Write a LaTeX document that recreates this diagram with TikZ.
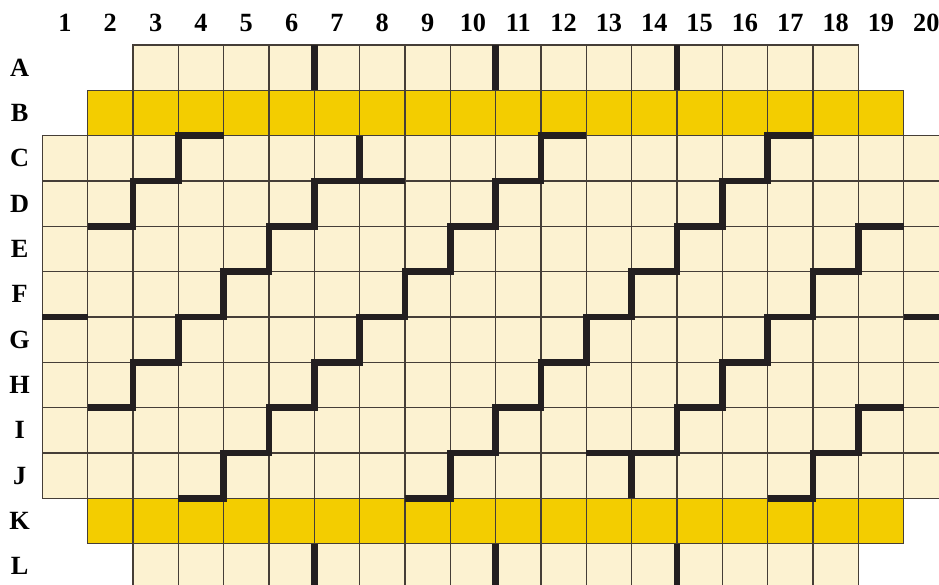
\documentclass[tikz,border=0pt]{standalone}
\usepackage{fontspec}
\setmainfont{Liberation Serif}
\usepackage{xcolor}
\definecolor{cellcream}{HTML}{FCF2D1}
\definecolor{bandgold}{HTML}{F3CD00}
\definecolor{gridgrey}{HTML}{453E37}
\definecolor{wallblack}{HTML}{231F20}

\begin{document}
\begin{tikzpicture}[
  x=1cm,y=-1cm,
  cell/.style={draw=gridgrey,line width=.8pt,fill=cellcream},
  band/.style={cell,fill=bandgold},
  wall/.style={draw=wallblack,line width=4.1pt,line join=miter},
  every node/.style={font=\bfseries\fontsize{16.5}{18}\selectfont}
]
  \useasboundingbox (-0.933,-0.993) rectangle (19.78,11.91);

  % board
  \foreach \c in {3,...,18} \draw[cell] (\c-1,0) rectangle ++(1,1);
  \foreach \c in {2,...,19} \draw[band] (\c-1,1) rectangle ++(1,1);
  \foreach \r in {3,...,10}
    \foreach \c in {1,...,20} \draw[cell] (\c-1,\r-1) rectangle ++(1,1);
  \foreach \c in {2,...,19} \draw[band] (\c-1,10) rectangle ++(1,1);
  \foreach \c in {3,...,18} \draw[cell] (\c-1,11) rectangle ++(1,1);

  % labels
  \foreach \c in {1,...,20} \node (col\c) at (\c-0.5,-0.48) {\c};
  \foreach \r [count=\i] in {A,B,C,D,E,F,G,H,I,J,K,L}
    \node (row\r) at (-0.5,\i-0.5) {\r};

  % walls
  \foreach \x in {6,10,14} {
    \draw[wall] (\x,0) -- (\x,1);
    \draw[wall] (\x,11) -- (\x,12);
  }
  \draw[wall] (4,2) -- (3,2) -- (3,3) -- (2,3) -- (2,4) -- (1,4);
  \draw[wall] (7,2) -- (7,3);
  \draw[wall] (8,3) -- (6,3) -- (6,4) -- (5,4) -- (5,5) -- (4,5) -- (4,6)
    -- (3,6) -- (3,7) -- (2,7) -- (2,8) -- (1,8);
  \draw[wall] (12,2) -- (11,2) -- (11,3) -- (10,3) -- (10,4) -- (9,4) -- (9,5)
    -- (8,5) -- (8,6) -- (7,6) -- (7,7) -- (6,7) -- (6,8) -- (5,8) -- (5,9)
    -- (4,9) -- (4,10) -- (3,10);
  \draw[wall] (17,2) -- (16,2) -- (16,3) -- (15,3) -- (15,4) -- (14,4) -- (14,5)
    -- (13,5) -- (13,6) -- (12,6) -- (12,7) -- (11,7) -- (11,8) -- (10,8)
    -- (10,9) -- (9,9) -- (9,10) -- (8,10);
  \draw[wall] (19,4) -- (18,4) -- (18,5) -- (17,5) -- (17,6) -- (16,6) -- (16,7)
    -- (15,7) -- (15,8) -- (14,8) -- (14,9) -- (12,9);
  \draw[wall] (13,9) -- (13,10);
  \draw[wall] (19,8) -- (18,8) -- (18,9) -- (17,9) -- (17,10) -- (16,10);
  \draw[wall] (0,6) -- (1,6);
  \draw[wall] (19,6) -- (20,6);
\end{tikzpicture}
\end{document}
